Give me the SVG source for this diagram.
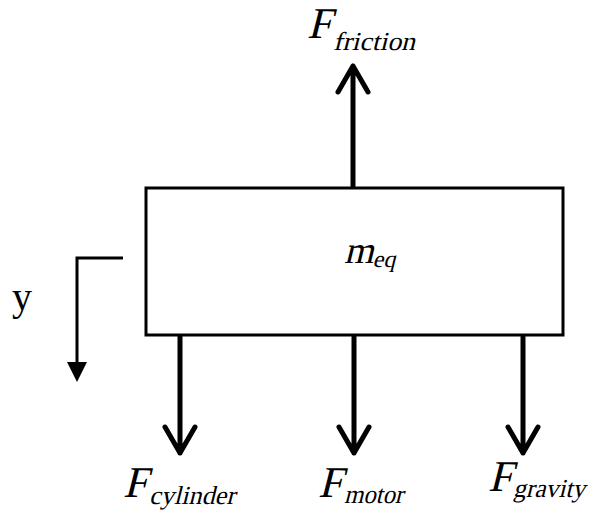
<svg xmlns="http://www.w3.org/2000/svg" width="591" height="519" viewBox="0 0 591 519">
<style>
.force{fill:none;stroke:#000;stroke-width:5;stroke-linecap:round;stroke-linejoin:round}
.thin{fill:none;stroke:#000;stroke-width:3}
text{font-family:"Liberation Serif","Times New Roman",serif;fill:#000}
.F{font-size:44px}
.sub{font-size:26px}
</style>
<rect width="591" height="519" fill="#fff"/>
<g id="mass">
<rect x="146" y="188" width="417" height="147" fill="#fff" stroke="#000" stroke-width="3"/>
<text transform="translate(344,263) skewX(-14)" font-size="38">m<tspan font-size="24" dy="4">eq</tspan></text>
</g>
<g id="connectors">
<path class="force" d="M353 186V66M338 92L353 66L368 92"/>
<path class="force" d="M180 337V453M165 427L180 453L195 427"/>
<path class="force" d="M354 337V453M339 427L354 453L369 427"/>
<path class="force" d="M523 337V453M508 427L523 453L538 427"/>
<path class="thin" d="M123 258H77V366"/>
<polygon points="67,362 87,362 77,382" fill="#000"/>
</g>
<g id="label-friction"><text class="F" transform="translate(307,38) skewX(-14)">F</text><text class="sub" transform="translate(333,50) skewX(-14)" textLength="82" lengthAdjust="spacingAndGlyphs">friction</text></g>
<g id="label-cylinder"><text class="F" transform="translate(123,497) skewX(-14)">F</text><text class="sub" transform="translate(149,504) skewX(-14)" textLength="86" lengthAdjust="spacingAndGlyphs">cylinder</text></g>
<g id="label-motor"><text class="F" transform="translate(318,497) skewX(-14)">F</text><text class="sub" transform="translate(344,503) skewX(-14)" textLength="59" lengthAdjust="spacingAndGlyphs">motor</text></g>
<g id="label-gravity"><text class="F" transform="translate(488,491) skewX(-14)">F</text><text class="sub" transform="translate(513,497) skewX(-14)" textLength="72" lengthAdjust="spacingAndGlyphs">gravity</text></g>
<g id="label-y"><text x="12" y="310" font-size="40">y</text></g>
</svg>
